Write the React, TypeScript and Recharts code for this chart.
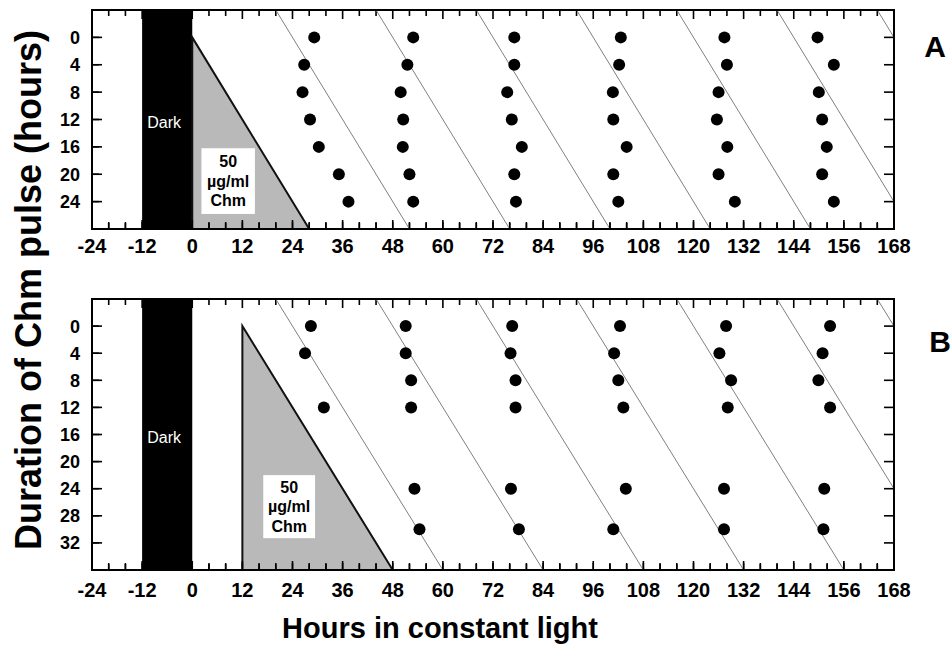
import React from 'react';
import { ScatterChart, Scatter, XAxis, YAxis, ReferenceArea, ReferenceLine } from 'recharts';

// ---------- data ----------
const xDomain = [-24, 168];
const xTicks = [-24, -20, -16, -12, -8, -4, 0, 4, 8, 12, 16, 20, 24, 28, 32, 36, 40, 44, 48, 52, 56, 60, 64, 68, 72, 76, 80, 84, 88, 92, 96, 100, 104, 108, 112, 116, 120, 124, 128, 132, 136, 140, 144, 148, 152, 156, 160, 164, 168];
const cycleOffsets = [24, 48, 72, 96, 120, 144, 168];

// Panel A
const yDomainA = [-4, 28];
const yTicksA = [0, 4, 8, 12, 16, 20, 24];
const pulsesA = [0, 4, 8, 12, 16, 20, 24];
const peaksA1 = [29.2, 26.8, 26.4, 28.2, 30.3, 35.1, 37.4];
const peaksA2 = [52.9, 51.5, 49.9, 50.5, 50.4, 52.0, 52.9];
const peaksA3 = [77.1, 77.1, 75.4, 76.5, 78.9, 77.1, 77.5];
const peaksA4 = [102.6, 102.2, 100.7, 100.8, 104.0, 100.8, 102.0];
const peaksA5 = [127.4, 128.0, 126.0, 125.6, 128.1, 126.0, 129.9];
const peaksA6 = [149.7, 153.6, 150.0, 150.8, 151.9, 150.8, 153.6];
const darkA = [-12, 0];
const chmTriangleA = { x: [0, 28], y: [0, 28] };
const chmBoxA = { x: [2.2, 15], y: [16.2, 25.8] };

// Panel B
const yDomainB = [-4, 36];
const yTicksB = [0, 4, 8, 12, 16, 20, 24, 28, 32];
const pulsesB = [0, 4, 8, 12, 24, 30];
const peaksB1 = [28.4, 27.0, null, 31.5, null, null];
const peaksB2 = [51.1, 51.1, 52.4, 52.4, 53.2, 54.4];
const peaksB3 = [76.6, 76.2, 77.4, 77.4, 76.3, 78.2];
const peaksB4 = [102.4, 101.0, 102.0, 103.2, 103.8, 100.8];
const peaksB5 = [127.8, 126.2, 129.0, 128.2, 127.3, 127.3];
const peaksB6 = [152.7, 150.9, 149.9, 152.7, 151.3, 151.1];
const darkB = [-12, 0];
const chmTriangleB = { x: [12, 48], y: [0, 36] };
const chmBoxB = { x: [17.0, 29.4], y: [22.0, 31.3] };

const chmLabel = ['50', 'µg/ml', 'Chm'];
const darkLabel = 'Dark';

type Pt = { x: number; y: number };
function buildPoints(pulses: number[], cycles: (number | null)[][]): Pt[] {
  const out: Pt[] = [];
  cycles.forEach((c) => {
    c.forEach((v, i) => {
      if (v !== null && v !== undefined) out.push({ x: v, y: pulses[i] });
    });
  });
  return out;
}

const pointsA = buildPoints(pulsesA, [peaksA1, peaksA2, peaksA3, peaksA4, peaksA5, peaksA6]);
const pointsB = buildPoints(pulsesB, [peaksB1, peaksB2, peaksB3, peaksB4, peaksB5, peaksB6]);

// ---------- styles ----------
const FONT = '"Liberation Sans", Arial, Helvetica, sans-serif';
const INWARD = -7; // tick length drawn inward (negative tick size)
const TICK_LINE = { stroke: '#000', strokeWidth: 1.5 };
const AXIS_LINE = { stroke: '#000', strokeWidth: 2 };

// label y passed by the library = axis line + INWARD + tickMargin(2)
const makeXTickLabel = (dy: number) => (props: any) => {
  const x = Number(props.x);
  const y = Number(props.y);
  const v = props.payload.value;
  if (v % 12 !== 0) return <g />;
  return (
    <text x={x} y={y - INWARD - 2 + dy} textAnchor="middle" fontSize={20} fontWeight="bold" fill="#000" fontFamily={FONT}>
      {v}
    </text>
  );
};

const YTickLabel = (props: any) => {
  const x = Number(props.x);
  const y = Number(props.y);
  return (
    <text x={x + INWARD + 2 - 12} y={y} dy="0.36em" textAnchor="end" fontSize={18} fontWeight="bold" fill="#000" fontFamily={FONT}>
      {props.payload.value}
    </text>
  );
};

const DarkShape = (props: any) => {
  const { x, y, width, height } = props;
  return (
    <g>
      <rect x={x} y={y} width={width} height={height} fill="#000" />
      <text x={x + width / 2 - 3} y={y + height / 2 + 3} dy="0.36em" textAnchor="middle" fontSize={16} fill="#fff" fontFamily={FONT}>
        {darkLabel}
      </text>
    </g>
  );
};

const TriangleShape = (props: any) => {
  const { x, y, width, height } = props;
  return (
    <g>
      <polygon points={`${x},${y} ${x},${y + height} ${x + width},${y + height}`} fill="#b9b9b9" />
      <polyline points={`${x},${y + height} ${x},${y} ${x + width},${y + height}`} fill="none" stroke="#111" strokeWidth={2} />
    </g>
  );
};

const BoxShape = (props: any) => {
  const { x, y, width, height } = props;
  const cx = x + width / 2;
  const gap = 19.5;
  const mid = y + height / 2;
  return (
    <g>
      <rect x={x} y={y} width={width} height={height} fill="#fff" />
      {chmLabel.map((t, i) => (
        <text key={t} x={cx} y={mid + (i - 1) * gap} dy="0.36em" textAnchor="middle" fontSize={16} fontWeight="bold" fill="#000" fontFamily={FONT}>
          {t}
        </text>
      ))}
    </g>
  );
};

// Frame + inward ticks placed along the library-computed plot rectangle
const makeFrameShape = (yDomain: number[], yTicks: number[]) => (props: any) => {
  const x = Number(props.x);
  const y = Number(props.y);
  const w = Number(props.width);
  const h = Number(props.height);
  const px = (v: number) => x + ((v - xDomain[0]) / (xDomain[1] - xDomain[0])) * w;
  const py = (v: number) => y + ((v - yDomain[0]) / (yDomain[1] - yDomain[0])) * h;
  const t = 1.6;
  const marks: React.ReactNode[] = [];
  xTicks.forEach((v) => {
    const len = v % 12 === 0 ? 9 : 6;
    const X = px(v);
    marks.push(<rect key={'xt' + v} x={X - t / 2} y={y} width={t} height={len} fill="#000" />);
    marks.push(<rect key={'xb' + v} x={X - t / 2} y={y + h - len} width={t} height={len} fill="#000" />);
  });
  yTicks.forEach((v) => {
    const Y = py(v);
    marks.push(<rect key={'yl' + v} x={x} y={Y - t / 2} width={10} height={t} fill="#000" />);
    marks.push(<rect key={'yr' + v} x={x + w - 10} y={Y - t / 2} width={10} height={t} fill="#000" />);
  });
  return (
    <g>
      {marks}
      <rect x={x} y={y} width={w} height={h} fill="none" stroke="#000" strokeWidth={2} />
    </g>
  );
};

const Dot = (props: any) => <circle cx={props.cx} cy={props.cy} r={6} fill="#000" />;
const NoDot = () => <g />;

type PanelProps = {
  top: number;
  height: number;
  yDomain: number[];
  yTicks: number[];
  points: Pt[];
  dark: number[];
  tri: { x: number[]; y: number[] };
  box: { x: number[]; y: number[] };
  labelDy: number;
};

function Panel({ top, height, yDomain, yTicks, points, dark, tri, box, labelDy }: PanelProps) {
  const yMin = yDomain[0];
  const yMax = yDomain[1];
  const FrameShape = makeFrameShape(yDomain, yTicks);
  return (
    <div style={{ position: 'absolute', left: 0, top, width: 951, height }}>
      <ScatterChart width={951} height={height} margin={{ top: 9, right: 56, bottom: 0, left: 0 }}>
        <XAxis
          type="number"
          dataKey="x"
          domain={xDomain}
          ticks={xTicks}
          interval={0}
          height={31}
          tickSize={INWARD}
          tick={makeXTickLabel(labelDy)}
          axisLine={AXIS_LINE}
          tickLine={TICK_LINE}
        />
        <XAxis
          xAxisId="top"
          orientation="top"
          type="number"
          dataKey="x"
          domain={xDomain}
          ticks={xTicks}
          interval={0}
          height={1}
          tickSize={INWARD}
          tick={false}
          axisLine={AXIS_LINE}
          tickLine={TICK_LINE}
        />
        <YAxis
          type="number"
          dataKey="y"
          domain={yDomain}
          ticks={yTicks}
          interval={0}
          reversed
          width={92}
          tickSize={INWARD}
          tick={YTickLabel}
          axisLine={AXIS_LINE}
          tickLine={TICK_LINE}
        />
        <YAxis
          yAxisId="right"
          orientation="right"
          type="number"
          dataKey="y"
          domain={yDomain}
          ticks={yTicks}
          interval={0}
          reversed
          width={1}
          tickSize={INWARD}
          tick={false}
          axisLine={AXIS_LINE}
          tickLine={TICK_LINE}
        />
        <ReferenceArea x1={dark[0]} x2={dark[1]} y1={yMin} y2={yMax} shape={DarkShape} ifOverflow="visible" />
        <ReferenceArea x1={tri.x[0]} x2={tri.x[1]} y1={tri.y[0]} y2={tri.y[1]} shape={TriangleShape} ifOverflow="visible" />
        <ReferenceArea x1={box.x[0]} x2={box.x[1]} y1={box.y[0]} y2={box.y[1]} shape={BoxShape} ifOverflow="visible" />
        {cycleOffsets.map((c) => {
          const yEnd = Math.min(yMax, xDomain[1] - c);
          return (
            <ReferenceLine
              key={'d' + c}
              segment={[
                { x: yMin + c, y: yMin },
                { x: yEnd + c, y: yEnd },
              ]}
              stroke="#808080"
              strokeWidth={1}
              ifOverflow="visible"
            />
          );
        })}
        <ReferenceArea x1={xDomain[0]} x2={xDomain[1]} y1={yMin} y2={yMax} shape={FrameShape} ifOverflow="visible" />
        <Scatter data={points} shape={Dot} isAnimationActive={false} />
        <Scatter data={points} xAxisId="top" yAxisId="right" shape={NoDot} isAnimationActive={false} />
      </ScatterChart>
    </div>
  );
}

export default function App() {
  return (
    <div style={{ position: 'absolute', left: 0, top: 0, width: 951, height: 653, background: '#fff', overflow: 'hidden' }}>
      <Panel top={0} height={260} yDomain={yDomainA} yTicks={yTicksA} points={pointsA} dark={darkA} tri={chmTriangleA} box={chmBoxA} labelDy={24} />
      <Panel top={289} height={312} yDomain={yDomainB} yTicks={yTicksB} points={pointsB} dark={darkB} tri={chmTriangleB} box={chmBoxB} labelDy={27} />
      <svg width={951} height={653} style={{ position: 'absolute', left: 0, top: 0, pointerEvents: 'none' }}>
        <text x={28} y={290} transform="rotate(-90 28 290)" dy="0.36em" textAnchor="middle" fontSize={36} fontWeight="bold" fill="#000" fontFamily={FONT}>
          Duration of Chm pulse (hours)
        </text>
        <text x={440} y={638} textAnchor="middle" fontSize={29} fontWeight="bold" fill="#000" fontFamily={FONT}>
          Hours in constant light
        </text>
        <text x={935} y={57} textAnchor="middle" fontSize={30} fontWeight="bold" fill="#000" fontFamily={FONT}>
          A
        </text>
        <text x={940} y={352} textAnchor="middle" fontSize={30} fontWeight="bold" fill="#000" fontFamily={FONT}>
          B
        </text>
      </svg>
    </div>
  );
}
